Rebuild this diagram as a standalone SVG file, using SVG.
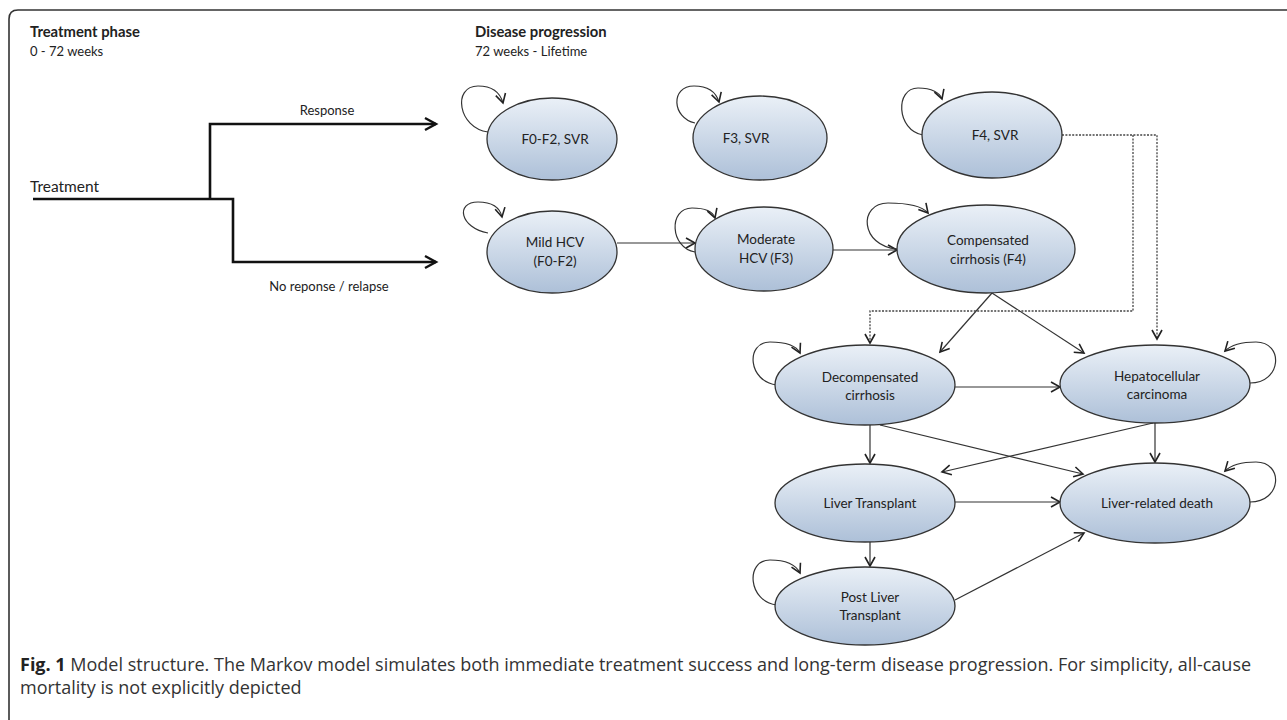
<svg xmlns="http://www.w3.org/2000/svg" width="1287" height="720" viewBox="0 0 1287 720">
<style>
.frame{fill:none;stroke:#333;stroke-width:1.6}
.node{fill:url(#g);stroke:#333;stroke-width:1.3}
.nt{font-family:Lato,"Open Sans","Liberation Sans",sans-serif;font-size:13.5px;fill:#222;text-anchor:middle}
.hd{font-family:Lato,"Open Sans","Liberation Sans",sans-serif;font-size:13px;fill:#222}
.hb{font-weight:bold;font-size:14.8px}
.tr{font-size:15.5px}
.tree{fill:none;stroke:#111;stroke-width:2.6;marker-end:url(#ab)}
.e{fill:none;stroke:#333;stroke-width:1.2;marker-end:url(#a)}
.d{fill:none;stroke:#444;stroke-width:1.3;stroke-dasharray:2 1.4;marker-end:url(#a)}
.loop{fill:none;stroke:#333;stroke-width:1.2;marker-end:url(#a)}
.cap{font-family:"Open Sans","Noto Sans","Liberation Sans",sans-serif;font-size:18px;fill:#333}
</style>
<defs>
<linearGradient id="g" x1="0" y1="0" x2="0" y2="1">
<stop offset="0" stop-color="#eaf0f7"/>
<stop offset="1" stop-color="#adc0d8"/>
</linearGradient>
<marker id="a" markerUnits="userSpaceOnUse" markerWidth="14" markerHeight="14" refX="9" refY="5" orient="auto" overflow="visible">
<path d="M0,0 L9,5 L0,10" fill="none" stroke="#222" stroke-width="1.6"/>
</marker>
<marker id="ab" markerUnits="userSpaceOnUse" markerWidth="16" markerHeight="16" refX="11" refY="6" orient="auto" overflow="visible">
<path d="M0,0 L11,6 L0,12" fill="none" stroke="#111" stroke-width="2.4"/>
</marker>
</defs>
<rect width="1287" height="720" fill="#fff"/>
<path class="frame" d="M9,725 V19 Q9,10 18,10 H1290"/>

<g id="headers">
<text class="hd hb" x="30" y="37">Treatment phase</text>
<text class="hd" x="30" y="56">0 - 72 weeks</text>
<text class="hd hb" x="475" y="37">Disease progression</text>
<text class="hd" x="475" y="56">72 weeks - Lifetime</text>
</g>

<g id="treatment-tree">
<text class="hd tr" x="30" y="192">Treatment</text>
<path class="tree" d="M33,199 H233 V262 H436"/>
<path class="tree" d="M210,199 V124 H436"/>
<text class="hd" x="327" y="115" text-anchor="middle">Response</text>
<text class="hd" x="329" y="291" text-anchor="middle">No reponse / relapse</text>
</g>

<g id="connectors">
<path class="e" d="M617,243 H695"/>
<path class="e" d="M833,250 H897"/>
<path class="e" d="M992,293 L940,352"/>
<path class="e" d="M992,293 L1084,353"/>
<path class="e" d="M955,387 H1060"/>
<path class="e" d="M870,425 V463"/>
<path class="e" d="M880,425 L1083,474"/>
<path class="e" d="M1153,423 L942,472"/>
<path class="e" d="M1155,423 V462"/>
<path class="e" d="M955,502 H1060"/>
<path class="e" d="M870,542 V566"/>
<path class="e" d="M955,600 L1084,533"/>
<path class="d" d="M1062,135 H1157 V339"/>
<path class="d" d="M1133,135 V311 H870 V343"/>
<path class="loop" d="M488,132 C458,128 452,86 478,86 C492,86 500,92 503,103"/>
<path class="loop" d="M695,123 C672,118 670,86 694,86 C708,86 716,92 719,102"/>
<path class="loop" d="M923,135 C896,130 895,88 918,88 C932,88 940,93 942,99"/>
<path class="loop" d="M488,233 C460,228 455,202 478,202 C492,202 500,208 502,217"/>
<path class="loop" d="M695,252 C670,248 668,208 692,208 C706,208 713,212 715,218"/>
<path class="loop" d="M897,249 C860,246 858,203 888,203 C908,203 922,206 928,213"/>
<path class="loop" d="M777,385 C748,382 745,342 770,342 C786,342 796,345 800,353"/>
<path class="loop" d="M777,605 C748,602 745,560 770,560 C786,560 796,565 800,573"/>
<path class="loop" d="M1250,383 C1282,383 1284,342 1256,342 C1242,342 1232,344 1225,351"/>
<path class="loop" d="M1250,502 C1282,502 1284,462 1256,462 C1242,462 1232,464 1225,471"/>
</g>

<g id="n-f0f2svr"><ellipse class="node" cx="552" cy="139" rx="65" ry="41"/><text class="nt" x="555" y="144">F0-F2, SVR</text></g>
<g id="n-f3svr"><ellipse class="node" cx="760" cy="138" rx="67" ry="42"/><text class="nt" x="746" y="143">F3, SVR</text></g>
<g id="n-f4svr"><ellipse class="node" cx="992" cy="135" rx="70" ry="43"/><text class="nt" x="995" y="140">F4, SVR</text></g>
<g id="n-mild"><ellipse class="node" cx="552" cy="252" rx="65" ry="41"/><text class="nt" x="555" y="247">Mild HCV</text><text class="nt" x="555" y="266">(F0-F2)</text></g>
<g id="n-moderate"><ellipse class="node" cx="764" cy="249" rx="69" ry="42"/><text class="nt" x="766" y="244">Moderate</text><text class="nt" x="766" y="263">HCV (F3)</text></g>
<g id="n-compensated"><ellipse class="node" cx="986" cy="249" rx="89" ry="44"/><text class="nt" x="988" y="245">Compensated</text><text class="nt" x="988" y="264">cirrhosis  (F4)</text></g>
<g id="n-decompensated"><ellipse class="node" cx="865" cy="385" rx="90" ry="40"/><text class="nt" x="870" y="382">Decompensated</text><text class="nt" x="870" y="400">cirrhosis</text></g>
<g id="n-hcc"><ellipse class="node" cx="1155" cy="384" rx="95" ry="39"/><text class="nt" x="1157" y="381">Hepatocellular</text><text class="nt" x="1157" y="399">carcinoma</text></g>
<g id="n-lt"><ellipse class="node" cx="865" cy="503" rx="90" ry="39"/><text class="nt" x="870" y="508">Liver Transplant</text></g>
<g id="n-lrd"><ellipse class="node" cx="1155" cy="503" rx="95" ry="40"/><text class="nt" x="1157" y="508">Liver-related death</text></g>
<g id="n-postlt"><ellipse class="node" cx="865" cy="606" rx="90" ry="39"/><text class="nt" x="870" y="602">Post Liver</text><text class="nt" x="870" y="620">Transplant</text></g>

<g id="caption">
<text class="cap" x="20" y="671"><tspan font-weight="bold" fill="#222">Fig. 1</tspan> Model structure. The Markov model simulates both immediate treatment success and long-term disease progression. For simplicity, all-cause</text>
<text class="cap" x="20" y="694">mortality is not explicitly depicted</text>
</g>
</svg>
